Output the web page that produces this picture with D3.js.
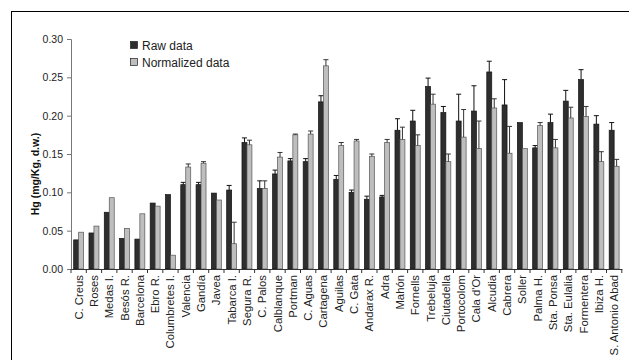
<!DOCTYPE html>
<html><head><meta charset="utf-8">
<script src="https://cdn.jsdelivr.net/npm/d3@7/dist/d3.min.js"></script>
<style>body{margin:0;background:#fff}svg{display:block}text{font-family:"Liberation Sans",Arial,sans-serif}</style>
</head><body>
<script>
const categories = ["C. Creus","Roses","Medas I.","Besós R.","Barcelona","Ebro R.","Columbretes I.","Valencia","Gandía","Javea","Tabarca I.","Segura R.","C. Palos","Calblanque","Portman","C. Aguas","Cartagena","Aguilas","C. Gata","Andarax R.","Adra","Mahón","Fornells","Trebeluja","Ciutadella","Portocolom","Cala d'Or","Alcudia","Cabrera","Soller","Palma H.","Sta. Ponsa","Sta. Eulalia","Formentera","Ibiza H.","S. Antonio Abad"];
const rawData = [0.038,0.047,0.074,0.040,0.039,0.086,0.097,0.110,0.110,0.099,0.103,0.165,0.105,0.124,0.141,0.140,0.218,0.117,0.100,0.091,0.094,0.181,0.193,0.238,0.204,0.193,0.206,0.257,0.214,0.191,0.158,0.191,0.219,0.247,0.189,0.181];
const rawErr = [0,0,0,0,0,0,0,0.003,0.003,0,0.006,0.006,0.010,0.005,0.003,0.004,0.008,0.005,0.003,0.004,0.002,0.015,0.014,0.011,0.008,0.035,0.033,0.014,0.033,0,0.003,0.011,0.014,0.013,0.011,0.010];
const normData = [0.048,0.056,0.093,0.053,0.072,0.082,0.018,0.133,0.138,0.090,0.033,0.162,0.105,0.146,0.175,0.176,0.265,0.161,0.167,0.147,0.165,0.169,0.161,0.215,0.140,0.172,0.157,0.210,0.151,0.157,0.187,0.158,0.197,0.199,0.140,0.134];
const normErr = [0,0,0,0,0,0,0,0.004,0.002,0,0.028,0.006,0.010,0.006,0.001,0.004,0.008,0.004,0.002,0.003,0.004,0.016,0.014,0.013,0.010,0.036,0.036,0.012,0.035,0,0.004,0.011,0.014,0.013,0.013,0.009];
const yTicks = [0,0.05,0.10,0.15,0.20,0.25,0.30];
const seriesNames = ["Raw data","Normalized data"];

const W=629,H=360;
const svg=d3.select("body").append("svg").attr("width",W).attr("height",H);
// outer frame
svg.append("rect").attr("x",11.5).attr("y",11.5).attr("width",640).attr("height",400)
  .attr("fill","none").attr("stroke","#000").attr("stroke-width",1);

const x0=d3.scaleBand().domain(categories).range([71,621.8]).paddingInner(0.35).paddingOuter(0.175);
const x1=d3.scaleBand().domain(["raw","norm"]).range([0,x0.bandwidth()]);
const y=d3.scaleLinear().domain([0,0.30]).range([269,39]);

const series=[
  {key:"raw",vals:rawData,err:rawErr,fill:"#2e2e2e",stroke:"#111",ecol:"#111"},
  {key:"norm",vals:normData,err:normErr,fill:"#bebebe",stroke:"#555",ecol:"#333"}
];

series.forEach(s=>{
  const g=svg.append("g");
  g.selectAll("rect").data(categories).join("rect")
    .attr("x",(c)=>x0(c)+x1(s.key))
    .attr("y",(c,i)=>y(s.vals[i]))
    .attr("width",x1.bandwidth())
    .attr("height",(c,i)=>y(0)-y(s.vals[i]))
    .attr("fill",s.fill).attr("stroke",s.stroke).attr("stroke-width",0.7);
  const eg=svg.append("g").attr("stroke",s.ecol).attr("stroke-width",1);
  categories.forEach((c,i)=>{
    if(!s.err[i]) return;
    const cx=x0(c)+x1(s.key)+x1.bandwidth()/2;
    const top=y(s.vals[i]+s.err[i]);
    eg.append("line").attr("x1",cx).attr("x2",cx).attr("y1",y(s.vals[i])).attr("y2",top);
    eg.append("line").attr("x1",cx-2.5).attr("x2",cx+2.5).attr("y1",top).attr("y2",top);
  });
});

// y axis
const yAxis=svg.append("g").attr("transform","translate(71,0)")
  .call(d3.axisLeft(y).tickValues(yTicks).tickFormat(d3.format(".2f")).tickSize(4).tickPadding(4));
yAxis.select(".domain").attr("stroke","#777");
yAxis.selectAll(".tick line").attr("stroke","#777");
yAxis.selectAll("text").attr("font-size",10.5).attr("fill","#222");

// x axis
const xAxis=svg.append("g").attr("transform","translate(0,269)")
  .call(d3.axisBottom(x0).tickSize(0).tickSizeOuter(0));
xAxis.select(".domain").attr("stroke","#333");
xAxis.selectAll(".tick text")
  .attr("transform","rotate(-90)").attr("text-anchor","end")
  .attr("x",-6).attr("y",0).attr("dy","0.35em")
  .attr("font-size",11.3).attr("fill","#222");
// boundary ticks
svg.append("g").attr("stroke","#333").selectAll("line")
  .data(d3.range(categories.length+1)).join("line")
  .attr("x1",i=>71+i*x0.step()).attr("x2",i=>71+i*x0.step())
  .attr("y1",269).attr("y2",273);

// y title
svg.append("text").attr("transform","translate(39,174) rotate(-90)")
  .attr("text-anchor","middle").attr("font-size",10.5).attr("font-weight","bold")
  .attr("fill","#111").text("Hg (mg/Kg, d.w.)");

// legend
const leg=svg.append("g");
const lf=[series[0].fill,series[1].fill];
seriesNames.forEach((n,i)=>{
  leg.append("rect").attr("x",130.5).attr("y",41.5+i*17).attr("width",7).attr("height",7)
    .attr("fill",lf[i]).attr("stroke","#222").attr("stroke-width",0.7);
  leg.append("text").attr("x",142).attr("y",49.5+i*17).attr("font-size",12).attr("fill","#222").text(n);
});
</script>
</body></html>
